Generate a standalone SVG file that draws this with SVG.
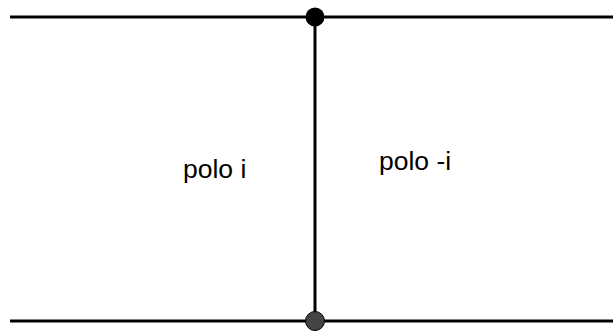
<svg xmlns="http://www.w3.org/2000/svg" width="613" height="332" viewBox="0 0 613 332">
  <style>
    .line { stroke: #000; stroke-width: 3; fill: none; }
    .label { font-family: "Liberation Sans", Arial, sans-serif; font-size: 26.5px; fill: #000; }
  </style>
  <rect width="613" height="332" fill="#fff"/>
  <g id="connectors">
    <line class="line" x1="10" y1="17" x2="613" y2="17"/>
    <line class="line" x1="10" y1="321" x2="613" y2="321"/>
    <line class="line" x1="315" y1="17" x2="315" y2="321"/>
  </g>
  <g id="point-top">
    <circle cx="315" cy="17" r="9.5" fill="#000"/>
  </g>
  <g id="point-bottom">
    <circle cx="315" cy="321" r="9.5" fill="#444" stroke="#000" stroke-width="1"/>
  </g>
  <g id="label-left">
    <text class="label" x="183" y="178">polo i</text>
  </g>
  <g id="label-right">
    <text class="label" x="379" y="170">polo -i</text>
  </g>
</svg>
